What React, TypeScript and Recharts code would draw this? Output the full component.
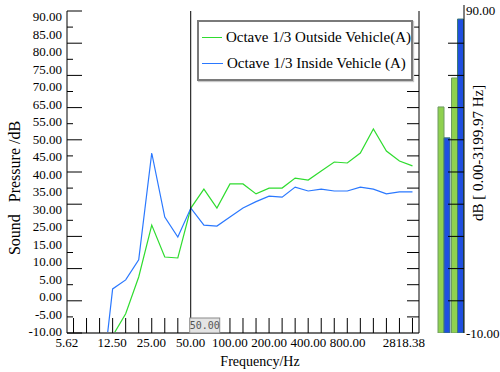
import React from 'react';
import { LineChart, Line, XAxis, YAxis, ReferenceLine, Legend, BarChart, Bar, Label } from 'recharts';

// 1/3-octave band centre frequencies (Hz)
const bandFreqs = [10, 12.59, 15.85, 19.95, 25.12, 31.62, 39.81, 50.12, 63.1, 79.43, 100, 125.89, 158.49, 199.53, 251.19, 316.23, 398.11, 501.19, 630.96, 794.33, 1000, 1258.93, 1584.89, 1995.26, 2511.89];
const outsideDb = [-25, -10.9, -4, 7.4, 23.5, 13.6, 13.3, 28.8, 34.7, 28.8, 36.3, 36.3, 33.2, 35.0, 35.0, 38.1, 37.5, 40.3, 43.1, 42.8, 45.9, 53.4, 46.5, 43.4, 41.9];
const insideDb = [-32, 3.7, 6.5, 12.7, 45.9, 26.0, 19.8, 28.8, 23.5, 23.2, 26.0, 28.8, 30.8, 32.5, 32.2, 35.3, 34.1, 34.7, 34.1, 34.1, 35.3, 34.7, 33.2, 33.8, 33.8];
const markFreqs = [6.31, 7.94, ...bandFreqs];
const freqLabels = [5.62, 12.5, 25, 50, 100, 200, 400, 800, 2818.38];
const freqDomain = [5.6234, 2818.38];
const dbTicks = [-10, -5, 0, 5, 10, 15, 20, 25, 30, 35, 40, 45, 50, 55, 60, 65, 70, 75, 80, 85, 90];
const yLabelTexts = ['-10.00', '-5.00', '0.00', '5.00', '10.00', '15.00', '25.00', '30.00', '35.00', '40.00', '45.00', '50.00', '55.00', '65.00', '70.00', '75.00', '80.00', '85.00', '90.00'];
const yLabelIdx = yLabelTexts.map((_, i) => i);
const cursorFreq = 50;
const seriesNames = ['Octave 1/3 Outside Vehicle(A)', 'Octave 1/3 Inside Vehicle (A)'];

// overall levels panel
const totalCats = ['Lin', 'A'];
const totalOutside = [60.2, 69.2];
const totalInside = [50.6, 87.5];
const totalTicks = [-10, 0, 10, 20, 30, 40, 50, 60, 70, 80, 90];
const totalMin = -10;

const GREEN = '#2fdc2f';
const BLUE = '#2a78ff';
const FONT = '"Liberation Serif", "Times New Roman", serif';
const TXT = { fontFamily: FONT } as React.CSSProperties;

const lineData = bandFreqs.map((f, i) => ({ f, outside: outsideDb[i], inside: insideDb[i] }));
const barData = totalCats.map((c, i) => ({ name: c, outside: totalOutside[i], inside: totalInside[i] }));

const LeftMark = (props: any) => {
  const { x, y, payload } = props;
  const len = payload.value % 10 === 0 ? 15 : 6;
  return <line x1={x} x2={x + len} y1={y} y2={y} stroke="#000" strokeWidth={1} />;
};
const RightMark = (props: any) => {
  const { x, y } = props;
  return <line x1={x - 12} x2={x} y1={y} y2={y} stroke="#000" strokeWidth={1} />;
};
const BottomMark = (props: any) => {
  const { x, y } = props;
  return <line x1={x} x2={x} y1={y} y2={y - 15} stroke="#000" strokeWidth={1} />;
};
const YLabelTick = (props: any) => {
  const { x, y, payload } = props;
  return (
    <text x={x - 5} y={y + 4.5} textAnchor="end" style={TXT} fontSize={13} fill="#000">
      {yLabelTexts[payload.value]}
    </text>
  );
};
const XLabelTick = (props: any) => {
  const { x, y, payload } = props;
  const last = payload.value === freqLabels[freqLabels.length - 1];
  return (
    <text x={last ? x + 6 : x} y={y + 14} textAnchor={last ? 'end' : 'middle'} style={TXT} fontSize={13} fill="#000">
      {Number(payload.value).toFixed(2)}
    </text>
  );
};
const CursorLabel = (props: any) => {
  const vb = props.viewBox || {};
  const bottom = vb.y + vb.height;
  return (
    <g>
      <rect x={vb.x - 1} y={bottom - 15} width={30} height={15} fill="#e4e4e4" stroke="#8a8a8a" strokeWidth={1} />
      <text x={vb.x + 14} y={bottom - 4} textAnchor="middle" style={{ fontFamily: '"DejaVu Sans Mono", monospace' }} fontSize={10} fill="#555">
        {cursorFreq.toFixed(2)}
      </text>
    </g>
  );
};
const LegendBox = (props: any) => {
  const payload = [...(props.payload || [])].sort((a: any, b: any) => seriesNames.indexOf(a.value) - seriesNames.indexOf(b.value));
  return (
    <div style={{ width: 212, height: 55, border: '2px solid #7a7a7a', background: '#fff', boxShadow: '1px 1px 1px #c8c8c8', fontFamily: FONT, fontSize: 15, color: '#000', paddingTop: 2, boxSizing: 'content-box' }}>
      {payload.map((p: any, i: number) => (
        <div key={i} style={{ display: 'flex', alignItems: 'center', height: 26, whiteSpace: 'nowrap' }}>
          <div style={{ width: 21, height: 0, borderTop: `1.5px solid ${p.color}`, marginLeft: 3, marginRight: 4 }} />
          <span style={{ height: 26, lineHeight: '26px' }}>{p.value}</span>
        </div>
      ))}
    </div>
  );
};
const YTitle = (props: any) => {
  const vb = props.viewBox || {};
  const cx = 14;
  const cy = vb.y + vb.height / 2 + 16;
  return (
    <text x={cx} y={cy} transform={`rotate(-90 ${cx} ${cy})`} textAnchor="middle" dominantBaseline="central" fontSize={16} fill="#000" style={{ fontFamily: FONT, whiteSpace: 'pre' }}>
      {'Sound   Pressure /dB'}
    </text>
  );
};
const XTitle = (props: any) => {
  const vb = props.viewBox || {};
  return (
    <text x={vb.x + vb.width / 2 + 17} y={vb.y + 33} textAnchor="middle" style={TXT} fontSize={14} fill="#000">
      Frequency/Hz
    </text>
  );
};
const TotalTick = (props: any) => {
  const { x, y, payload } = props;
  if (payload.value === totalTicks[0] || payload.value === totalTicks[totalTicks.length - 1]) {
    return (
      <text x={x + 2} y={y + 4.5} textAnchor="start" style={TXT} fontSize={13} fill="#000">
        {Number(payload.value).toFixed(2)}
      </text>
    );
  }
  return <line x1={x - 16} x2={x} y1={y} y2={y} stroke="#000" strokeWidth={1} />;
};
const TotalTitle = (props: any) => {
  const vb = props.viewBox || {};
  const cx = vb.x + 14;
  const cy = 153;
  return (
    <text x={cx} y={cy} transform={`rotate(-90 ${cx} ${cy})`} textAnchor="middle" dominantBaseline="central" style={TXT} fontSize={15} fill="#000">
      dB [ 0.00-3199.97 Hz]
    </text>
  );
};

export default function App() {
  const refLineProps: any = { zIndex: 2500 };
  return (
    <div style={{ position: 'absolute', left: 0, top: 0, width: 500, height: 372, background: '#fff' }}>
      <div style={{ position: 'absolute', left: 0, top: 0 }}>
        <LineChart width={500} height={372} data={lineData} margin={{ top: 11, right: 81, bottom: 0, left: 0 }}>
          <XAxis xAxisId="main" dataKey="f" type="number" scale="log" domain={freqDomain} allowDataOverflow ticks={markFreqs} interval={0}
            orientation="bottom" mirror height={1} tickSize={0} tickMargin={0} tick={<BottomMark />} tickLine={false}
            axisLine={{ stroke: '#707070', strokeWidth: 2 }} />
          <XAxis xAxisId="lbl" dataKey="f" type="number" scale="log" domain={freqDomain} allowDataOverflow ticks={freqLabels} interval={0}
            orientation="bottom" height={39} tickSize={0} tickMargin={0} tick={<XLabelTick />} tickLine={false} axisLine={false}>
            <Label content={<XTitle />} />
          </XAxis>
          <XAxis xAxisId="top" dataKey="f" type="number" scale="log" domain={freqDomain} allowDataOverflow orientation="top" height={0}
            tick={false} tickLine={false} axisLine={{ stroke: '#000' }} />
          <YAxis yAxisId="main" type="number" domain={[-10, 90]} allowDataOverflow ticks={dbTicks} interval={0} orientation="left" mirror width={1}
            tickSize={0} tickMargin={0} tick={<LeftMark />} tickLine={false} axisLine={{ stroke: '#000' }} />
          <YAxis yAxisId="lbl" type="number" domain={[-0.06, 18.34]} allowDataOverflow ticks={yLabelIdx} interval={0} orientation="left" width={67}
            tickSize={0} tickMargin={0} tick={<YLabelTick />} tickLine={false} axisLine={false}>
            <Label content={<YTitle />} />
          </YAxis>
          <YAxis yAxisId="right" type="number" domain={[-10, 90]} allowDataOverflow ticks={dbTicks.slice(1, -1)} interval={0} orientation="right" mirror width={1}
            tickSize={0} tickMargin={0} tick={<RightMark />} tickLine={false} axisLine={{ stroke: '#000' }} />
          <Legend layout="horizontal" verticalAlign="middle" align="center" content={<LegendBox />}
            wrapperStyle={{ left: 197, top: 20, width: 216, height: 59 }} />
          <Line xAxisId="main" yAxisId="main" type="linear" dataKey="outside" name={seriesNames[0]} stroke={GREEN} strokeWidth={1.2} dot={false} activeDot={false} isAnimationActive={false} />
          <Line xAxisId="main" yAxisId="main" type="linear" dataKey="inside" name={seriesNames[1]} stroke={BLUE} strokeWidth={1.2} dot={false} activeDot={false} isAnimationActive={false} />
          <ReferenceLine xAxisId="main" yAxisId="main" x={cursorFreq} stroke="#000" strokeWidth={1} {...refLineProps}
            label={<Label content={<CursorLabel />} {...refLineProps} />} />
        </LineChart>
      </div>
      <div style={{ position: 'absolute', left: 420, top: 0 }}>
        <BarChart width={80} height={372} data={barData} margin={{ top: 5, right: 0, bottom: 39, left: 13 }} barGap={0} barSize={6}>
          <XAxis dataKey="name" hide padding={{ left: 4, right: 0 }} />
          <YAxis type="number" domain={[-10, 91.86]} allowDataOverflow ticks={totalTicks} interval={0} orientation="right" width={36}
            tickSize={0} tickMargin={0} tick={<TotalTick />} tickLine={false} axisLine={{ stroke: '#000' }}>
            <Label content={<TotalTitle />} />
          </YAxis>
          <Bar dataKey={(d: any) => [totalMin, d.outside]} fill="#8fd14f" stroke="#6f9a62" strokeWidth={1} isAnimationActive={false} />
          <Bar dataKey={(d: any) => [totalMin, d.inside]} fill="#1f4fe0" stroke="#3d7a74" strokeWidth={1} isAnimationActive={false} />
        </BarChart>
      </div>
    </div>
  );
}
